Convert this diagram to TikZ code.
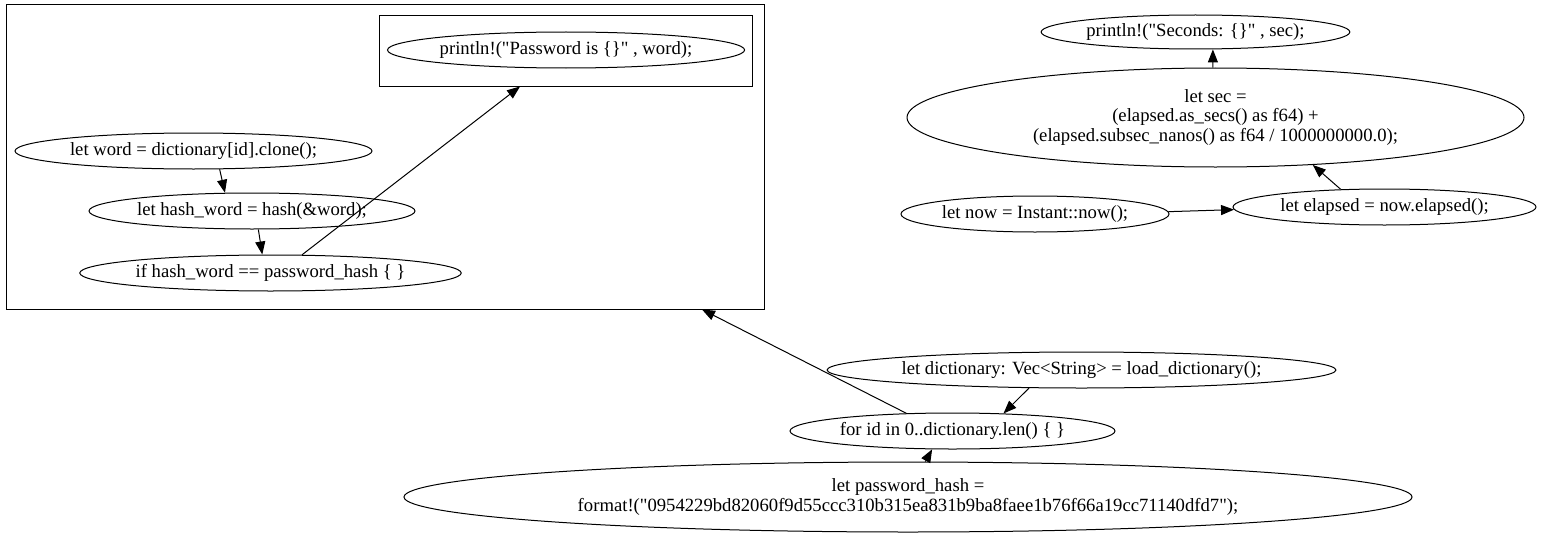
\documentclass[tikz,border=0pt]{standalone}
\usepackage{fontspec}
\setmainfont{Liberation Serif}[Ligatures=TeXOff]
\usetikzlibrary{arrows.meta,shapes.geometric,calc}
\begin{document}
\begin{tikzpicture}[x=1pt,y=-1pt,
  el/.style={draw,ellipse,inner sep=0pt,align=center,font=\fontsize{18.67}{19.5}\selectfont,line width=1pt},
  box/.style={draw,rectangle,inner sep=0pt,line width=1pt},
  edge/.style={line width=1pt,-{Triangle[length=13pt,width=10pt]}}]
\useasboundingbox (0,0) rectangle (1541,543);
% clusters
\node[box,minimum width=758pt,minimum height=304pt] (outer) at (385,157) {};
\node[box,minimum width=373pt,minimum height=70pt] (inner) at (565.5,51) {};
% nodes
\node[el,minimum width=356pt,minimum height=36pt] (pw) at (566,50) {println!("Password is \{\}" , word);};
\node[el,minimum width=357pt,minimum height=36pt] (word) at (193.5,151) {let word = dictionary[id].clone();};
\node[el,minimum width=326pt,minimum height=36pt] (hash) at (252,211) {let hash\_word = hash(\&word);};
\node[el,minimum width=377pt,minimum height=36pt] (iff) at (270.5,273) {if hash\_word == password\_hash \{ \}};
\node[el,minimum width=285pt,minimum height=34pt] (seconds) at (1195.5,32) {println!("Seconds: \{\}" , sec);};
\node[el,minimum width=617pt,minimum height=99pt] (sec) at (1215.5,117.5) {let sec =\\(elapsed.as\_secs() as f64) +\\(elapsed.subsec\_nanos() as f64 / 1000000000.0);};
\node[el,minimum width=268pt,minimum height=36pt] (now) at (1035,214) {let now = Instant::now();};
\node[el,minimum width=303pt,minimum height=36pt] (elapsed) at (1384.5,207) {let elapsed = now.elapsed();};
\node[el,minimum width=503pt,minimum height=36pt] (dict) at (1081.5,370) {let dictionary: Vec<String> = load\_dictionary();};
\node[el,minimum width=325pt,minimum height=36pt] (forid) at (952.5,431) {for id in 0..dictionary.len() \{ \}};
\node[el,minimum width=1008pt,minimum height=70pt] (pwhash) at (908,497) {let password\_hash =\\format!("0954229bd82060f9d55ccc310b315ea831b9ba8faee1b76f66a19cc71140dfd7");};
% edges
\draw[edge] (word.-35.8) -- (hash.146.3);
\draw[edge] (hash.-71.6) -- (iff.114);
\draw[edge] (iff.30) -- ($(inner.south)+(-45.5,0)$);
\draw[edge] (forid.159) -- ($(outer.south)+(317,0)$);
\draw[edge] (dict.-161.6) -- (forid.19.4);
\draw[edge] (pwhash.64) -- (forid.-138);
\draw[edge] (sec.93.4) -- (seconds.-45);
\draw[edge] (now.1) -- (elapsed.181);
\draw[edge] (elapsed.158.6) -- (sec.-26.9);
\end{tikzpicture}
\end{document}
